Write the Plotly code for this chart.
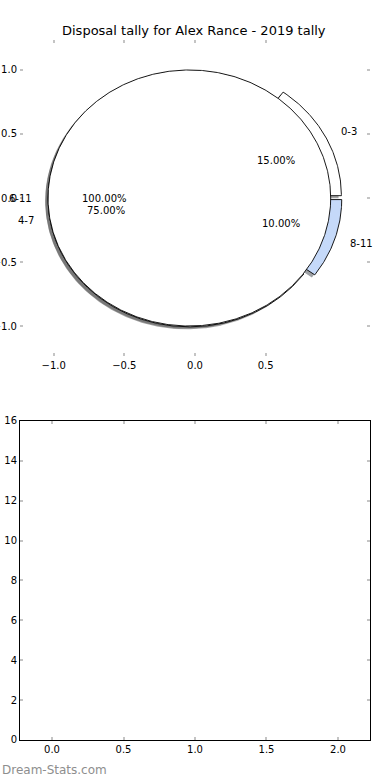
import numpy as np
import plotly.graph_objects as go

# ---- data ----
title_text = "Disposal tally for Alex Rance - 2019 tally"
pie_a_labels = ["0-3", "4-7", "8-11"]
pie_a_values = [3, 15, 2]
pie_b_labels = ["6-11"]
pie_b_values = [1]
bar_x_ticks = [0.0, 0.5, 1.0, 1.5, 2.0]
bar_y_ticks = [0, 2, 4, 6, 8, 10, 12, 14, 16]
pie_x_ticks = [-1.0, -0.5, 0.0, 0.5]
pie_y_ticks = [-1.0, -0.5, 0.0, 0.5, 1.0]

# ---- styles ----
FONT = "DejaVu Sans"
pie_a_colors = ["#ffffff", "#ffffff", "#c5d9f9"]
pie_b_colors = ["#ffffff"]
EXPLODE = 0.04
SHADOW_OFF = (-0.02, -0.02)
TICKCOL = "#c4c4c4"

fig = go.Figure()


def wedge_geom(values, explode):
    total = float(sum(values))
    out = []
    start = 0.0
    for v in values:
        frac = v / total
        t1, t2 = 360.0 * start, 360.0 * (start + frac)
        tm = np.deg2rad((t1 + t2) / 2)
        cx, cy = explode * np.cos(tm), explode * np.sin(tm)
        out.append(dict(t1=t1, t2=t2, tm=tm, cx=cx, cy=cy, frac=frac))
        start += frac
    return out


def wedge_xy(g, dx=0.0, dy=0.0):
    full = abs((g["t2"] - g["t1"]) - 360) < 1e-9
    n = max(8, int(abs(g["t2"] - g["t1"]) * 2))
    t = np.deg2rad(np.linspace(g["t1"], g["t2"], n))
    xs = list(g["cx"] + dx + np.cos(t))
    ys = list(g["cy"] + dy + np.sin(t))
    if not full:
        xs = [g["cx"] + dx] + xs + [g["cx"] + dx]
        ys = [g["cy"] + dy] + ys + [g["cy"] + dy]
    return xs, ys


ga = wedge_geom(pie_a_values, EXPLODE)
gb = wedge_geom(pie_b_values, EXPLODE)

# shadows first (below all wedges)
for geoms, cols in ((ga, pie_a_colors), (gb, pie_b_colors)):
    for g, c in zip(geoms, cols):
        r, gg, b = int(c[1:3], 16), int(c[3:5], 16), int(c[5:7], 16)
        sc = "rgba(%d,%d,%d,0.5)" % (0.3 * r, 0.3 * gg, 0.3 * b)
        xs, ys = wedge_xy(g, *SHADOW_OFF)
        fig.add_trace(go.Scatter(x=xs, y=ys, mode="lines", fill="toself",
                                 fillcolor=sc, line=dict(width=0, color=sc),
                                 hoverinfo="skip", showlegend=False,
                                 xaxis="x", yaxis="y"))

# wedges
for geoms, cols in ((ga, pie_a_colors), (gb, pie_b_colors)):
    for g, c in zip(geoms, cols):
        xs, ys = wedge_xy(g)
        fig.add_trace(go.Scatter(x=xs, y=ys, mode="lines", fill="toself",
                                 fillcolor=c, line=dict(width=0.9, color="black"),
                                 hoverinfo="skip", showlegend=False,
                                 xaxis="x", yaxis="y"))

# empty bar axes trace
fig.add_trace(go.Scatter(x=[], y=[], xaxis="x2", yaxis="y2", showlegend=False))

annotations = []
for geoms, labels in ((ga, pie_a_labels), (gb, pie_b_labels)):
    for g, lab in zip(geoms, labels):
        lx = g["cx"] + 1.1 * np.cos(g["tm"])
        ly = g["cy"] + 1.1 * np.sin(g["tm"])
        annotations.append(dict(x=lx, y=ly, xref="x", yref="y", text=lab,
                                showarrow=False, xanchor="left" if lx > 0 else "right",
                                yanchor="middle", font=dict(family=FONT, size=10, color="black")))
        px = g["cx"] + 0.6 * np.cos(g["tm"])
        py = g["cy"] + 0.6 * np.sin(g["tm"])
        annotations.append(dict(x=px, y=py, xref="x", yref="y",
                                text="%.2f%%" % (g["frac"] * 100),
                                showarrow=False, xanchor="center", yanchor="middle",
                                font=dict(family=FONT, size=10, color="black")))

annotations.append(dict(x=0.497, y=0.9615, xref="paper", yref="paper", text=title_text,
                        showarrow=False, xanchor="center", yanchor="middle",
                        font=dict(family=FONT, size=13, color="black")))
annotations.append(dict(x=-0.0571, y=0.0128, xref="paper", yref="paper", text="Dream-Stats.com",
                        showarrow=False, xanchor="left", yanchor="middle",
                        font=dict(family=FONT, size=12, color="#8e8e8e")))


def fmt(v):
    s = "%.1f" % abs(v)
    return ("\u2212" + s) if v < 0 else s


common = dict(showgrid=False, zeroline=False, ticks="inside", ticklen=3, tickwidth=2,
              tickcolor=TICKCOL, automargin=False,
              tickfont=dict(family=FONT, size=10, color="black"))

fig.update_layout(
    width=390, height=780,
    margin=dict(l=20, r=20, t=0, b=0),
    paper_bgcolor="white", plot_bgcolor="white",
    showlegend=False,
    xaxis=dict(domain=[0, 1], anchor="y", range=[-1.238, 1.238],
               tickvals=pie_x_ticks, ticktext=[fmt(v) for v in pie_x_ticks],
               showline=True, linecolor="rgba(0,0,0,0)", mirror="ticks", **common),
    yaxis=dict(domain=[0.5436, 0.9487], anchor="x", range=[-1.234, 1.234],
               tickvals=pie_y_ticks, ticktext=[fmt(v) for v in pie_y_ticks],
               showline=True, linecolor="rgba(0,0,0,0)", mirror="ticks", **common),
    xaxis2=dict(domain=[0, 1], anchor="y2", range=[-0.224, 2.224],
                tickvals=bar_x_ticks, ticktext=["%.1f" % v for v in bar_x_ticks],
                showline=True, linecolor="black", linewidth=1, mirror="ticks", **common),
    yaxis2=dict(domain=[0.0513, 0.4603], anchor="x2", range=[0, 16],
                tickvals=bar_y_ticks, ticktext=[str(v) for v in bar_y_ticks],
                showline=True, linecolor="black", linewidth=1, mirror="ticks", **common),
    annotations=annotations,
)

fig.write_html("out.html")
